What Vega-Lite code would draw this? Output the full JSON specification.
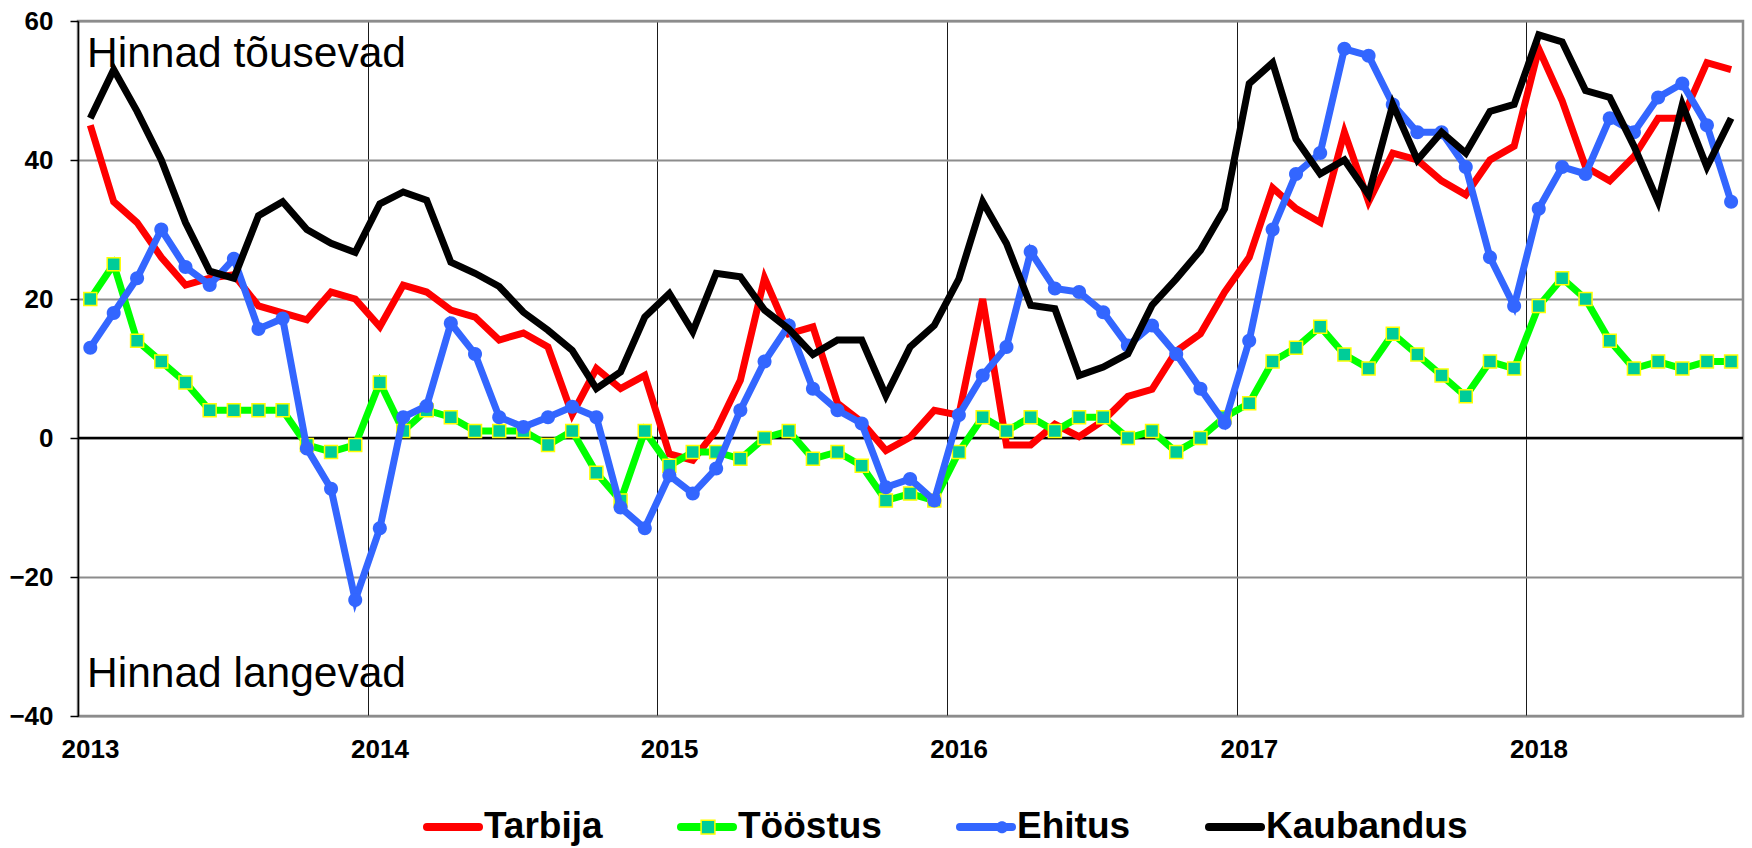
{
  "$schema": "https://vega.github.io/schema/vega-lite/v6.json",
  "autosize": {"type": "none"},
  "width": 1665,
  "height": 695,
  "padding": {"left": 78, "top": 21, "right": 9, "bottom": 132},
  "background": "white",
  "config": {
    "view": {"stroke": "#8c8c8c", "strokeWidth": 2.5},
    "font": "Liberation Sans"
  },
  "datasets": {
    "m": [
      {"d": "2013-01", "Tarbija": 45, "Tööstus": 20, "Ehitus": 13, "Kaubandus": 46},
      {"d": "2013-02", "Tarbija": 34, "Tööstus": 25, "Ehitus": 18, "Kaubandus": 53},
      {"d": "2013-03", "Tarbija": 31, "Tööstus": 14, "Ehitus": 23, "Kaubandus": 47},
      {"d": "2013-04", "Tarbija": 26, "Tööstus": 11, "Ehitus": 30, "Kaubandus": 40},
      {"d": "2013-05", "Tarbija": 22, "Tööstus": 8, "Ehitus": 24.6, "Kaubandus": 31},
      {"d": "2013-06", "Tarbija": 23, "Tööstus": 4, "Ehitus": 22, "Kaubandus": 24},
      {"d": "2013-07", "Tarbija": 23.5, "Tööstus": 4, "Ehitus": 25.8, "Kaubandus": 23},
      {"d": "2013-08", "Tarbija": 19, "Tööstus": 4, "Ehitus": 15.7, "Kaubandus": 32},
      {"d": "2013-09", "Tarbija": 18, "Tööstus": 4, "Ehitus": 17.2, "Kaubandus": 34},
      {"d": "2013-10", "Tarbija": 17, "Tööstus": -1, "Ehitus": -1.5, "Kaubandus": 30},
      {"d": "2013-11", "Tarbija": 21, "Tööstus": -2, "Ehitus": -7.3, "Kaubandus": 28},
      {"d": "2013-12", "Tarbija": 20, "Tööstus": -1, "Ehitus": -23.3, "Kaubandus": 26.7},
      {"d": "2014-01", "Tarbija": 16, "Tööstus": 8, "Ehitus": -13, "Kaubandus": 33.7},
      {"d": "2014-02", "Tarbija": 22, "Tööstus": 1, "Ehitus": 3, "Kaubandus": 35.4},
      {"d": "2014-03", "Tarbija": 21, "Tööstus": 4, "Ehitus": 4.6, "Kaubandus": 34.2},
      {"d": "2014-04", "Tarbija": 18.4, "Tööstus": 3, "Ehitus": 16.5, "Kaubandus": 25.3},
      {"d": "2014-05", "Tarbija": 17.4, "Tööstus": 1, "Ehitus": 12.1, "Kaubandus": 23.7},
      {"d": "2014-06", "Tarbija": 14.1, "Tööstus": 1, "Ehitus": 3, "Kaubandus": 21.8},
      {"d": "2014-07", "Tarbija": 15.1, "Tööstus": 1, "Ehitus": 1.6, "Kaubandus": 18.1},
      {"d": "2014-08", "Tarbija": 13.1, "Tööstus": -1, "Ehitus": 3, "Kaubandus": 15.5},
      {"d": "2014-09", "Tarbija": 3.4, "Tööstus": 1, "Ehitus": 4.5, "Kaubandus": 12.6},
      {"d": "2014-10", "Tarbija": 10, "Tööstus": -5, "Ehitus": 3, "Kaubandus": 7.1},
      {"d": "2014-11", "Tarbija": 7.1, "Tööstus": -9, "Ehitus": -10, "Kaubandus": 9.5},
      {"d": "2014-12", "Tarbija": 9, "Tööstus": 1, "Ehitus": -13, "Kaubandus": 17.4},
      {"d": "2015-01", "Tarbija": -2.3, "Tööstus": -4, "Ehitus": -5.4, "Kaubandus": 20.8},
      {"d": "2015-02", "Tarbija": -3.2, "Tööstus": -2, "Ehitus": -8, "Kaubandus": 15.3},
      {"d": "2015-03", "Tarbija": 1.1, "Tööstus": -2, "Ehitus": -4.4, "Kaubandus": 23.7},
      {"d": "2015-04", "Tarbija": 8.3, "Tööstus": -3, "Ehitus": 4, "Kaubandus": 23.2},
      {"d": "2015-05", "Tarbija": 23, "Tööstus": 0, "Ehitus": 11, "Kaubandus": 18.4},
      {"d": "2015-06", "Tarbija": 15, "Tööstus": 1, "Ehitus": 16.2, "Kaubandus": 15.7},
      {"d": "2015-07", "Tarbija": 16, "Tööstus": -3, "Ehitus": 7.1, "Kaubandus": 12},
      {"d": "2015-08", "Tarbija": 5, "Tööstus": -2, "Ehitus": 4, "Kaubandus": 14.1},
      {"d": "2015-09", "Tarbija": 2.3, "Tööstus": -4, "Ehitus": 2.1, "Kaubandus": 14.1},
      {"d": "2015-10", "Tarbija": -1.8, "Tööstus": -9, "Ehitus": -7.1, "Kaubandus": 6.1},
      {"d": "2015-11", "Tarbija": 0.1, "Tööstus": -8, "Ehitus": -5.9, "Kaubandus": 13.1},
      {"d": "2015-12", "Tarbija": 4, "Tööstus": -9, "Ehitus": -9, "Kaubandus": 16.2},
      {"d": "2016-01", "Tarbija": 3.3, "Tööstus": -2, "Ehitus": 3.3, "Kaubandus": 22.9},
      {"d": "2016-02", "Tarbija": 20, "Tööstus": 3, "Ehitus": 9, "Kaubandus": 34},
      {"d": "2016-03", "Tarbija": -1, "Tööstus": 1, "Ehitus": 13.1, "Kaubandus": 28},
      {"d": "2016-04", "Tarbija": -1, "Tööstus": 3, "Ehitus": 26.8, "Kaubandus": 19.1},
      {"d": "2016-05", "Tarbija": 2, "Tööstus": 1, "Ehitus": 21.5, "Kaubandus": 18.6},
      {"d": "2016-06", "Tarbija": 0.2, "Tööstus": 3, "Ehitus": 21, "Kaubandus": 9},
      {"d": "2016-07", "Tarbija": 2.5, "Tööstus": 3, "Ehitus": 18.1, "Kaubandus": 10.2},
      {"d": "2016-08", "Tarbija": 6, "Tööstus": 0, "Ehitus": 13.3, "Kaubandus": 12.1},
      {"d": "2016-09", "Tarbija": 7, "Tööstus": 1, "Ehitus": 16.2, "Kaubandus": 19.1},
      {"d": "2016-10", "Tarbija": 12.5, "Tööstus": -2, "Ehitus": 12.1, "Kaubandus": 22.9},
      {"d": "2016-11", "Tarbija": 15, "Tööstus": 0, "Ehitus": 7.1, "Kaubandus": 27},
      {"d": "2016-12", "Tarbija": 21, "Tööstus": 3, "Ehitus": 2.2, "Kaubandus": 33},
      {"d": "2017-01", "Tarbija": 26, "Tööstus": 5, "Ehitus": 14, "Kaubandus": 51},
      {"d": "2017-02", "Tarbija": 36, "Tööstus": 11, "Ehitus": 30, "Kaubandus": 54},
      {"d": "2017-03", "Tarbija": 33, "Tööstus": 13, "Ehitus": 38, "Kaubandus": 43},
      {"d": "2017-04", "Tarbija": 31, "Tööstus": 16, "Ehitus": 41, "Kaubandus": 38},
      {"d": "2017-05", "Tarbija": 44, "Tööstus": 12, "Ehitus": 56, "Kaubandus": 40},
      {"d": "2017-06", "Tarbija": 34, "Tööstus": 10, "Ehitus": 55, "Kaubandus": 35},
      {"d": "2017-07", "Tarbija": 41, "Tööstus": 15, "Ehitus": 48, "Kaubandus": 48},
      {"d": "2017-08", "Tarbija": 40, "Tööstus": 12, "Ehitus": 44, "Kaubandus": 40},
      {"d": "2017-09", "Tarbija": 37, "Tööstus": 9, "Ehitus": 44, "Kaubandus": 44},
      {"d": "2017-10", "Tarbija": 35, "Tööstus": 6, "Ehitus": 39, "Kaubandus": 41},
      {"d": "2017-11", "Tarbija": 40, "Tööstus": 11, "Ehitus": 26, "Kaubandus": 47},
      {"d": "2017-12", "Tarbija": 42, "Tööstus": 10, "Ehitus": 19, "Kaubandus": 48},
      {"d": "2018-01", "Tarbija": 56, "Tööstus": 19, "Ehitus": 33, "Kaubandus": 58},
      {"d": "2018-02", "Tarbija": 48.5, "Tööstus": 23, "Ehitus": 39, "Kaubandus": 57},
      {"d": "2018-03", "Tarbija": 39, "Tööstus": 20, "Ehitus": 38, "Kaubandus": 50},
      {"d": "2018-04", "Tarbija": 37, "Tööstus": 14, "Ehitus": 46, "Kaubandus": 49},
      {"d": "2018-05", "Tarbija": 40.5, "Tööstus": 10, "Ehitus": 44, "Kaubandus": 42},
      {"d": "2018-06", "Tarbija": 46, "Tööstus": 11, "Ehitus": 49, "Kaubandus": 34},
      {"d": "2018-07", "Tarbija": 46, "Tööstus": 10, "Ehitus": 51, "Kaubandus": 48},
      {"d": "2018-08", "Tarbija": 54, "Tööstus": 11, "Ehitus": 45, "Kaubandus": 39},
      {"d": "2018-09", "Tarbija": 53, "Tööstus": 11, "Ehitus": 34, "Kaubandus": 46}
    ]
  },
  "layer": [
    {
      "data": {"values": [{}]},
      "mark": {"type": "rule", "color": "black", "strokeWidth": 2.5},
      "encoding": {"y": {"datum": 0, "type": "quantitative"}}
    },
    {
      "data": {"values": [{}]},
      "mark": {"type": "text", "align": "left", "baseline": "alphabetic", "font": "Liberation Sans", "fontSize": 42.5, "color": "black", "dx": 9},
      "encoding": {
        "x": {"datum": {"year": 2013, "month": 1, "date": 1, "utc": true}, "type": "temporal", "scale": {"type": "utc", "domain": [{"year": 2013, "month": 1, "date": 1, "utc": true}, {"year": 2018, "month": 10, "date": 1, "utc": true}]}},
        "y": {"datum": 53.4, "type": "quantitative"},
        "text": {"value": "Hinnad tõusevad"}
      }
    },
    {
      "data": {"values": [{}]},
      "mark": {"type": "text", "align": "left", "baseline": "alphabetic", "font": "Liberation Sans", "fontSize": 42.5, "color": "black", "dx": 9},
      "encoding": {
        "x": {"datum": {"year": 2013, "month": 1, "date": 1, "utc": true}, "type": "temporal", "scale": {"type": "utc", "domain": [{"year": 2013, "month": 1, "date": 1, "utc": true}, {"year": 2018, "month": 10, "date": 1, "utc": true}]}},
        "y": {"datum": -35.8, "type": "quantitative"},
        "text": {"value": "Hinnad langevad"}
      }
    },
    {
      "data": {"name": "m"},
      "transform": [{"fold": ["Tarbija", "Tööstus", "Ehitus", "Kaubandus"], "as": ["s", "v"]}, {"filter": {"field": "s", "equal": "Tarbija"}}],
      "mark": {"type": "line", "strokeWidth": 7, "strokeMiterLimit": 4},
      "encoding": {
        "x": {"field": "d", "timeUnit": "utcyearmonth", "type": "temporal", "bandPosition": 0.5,
          "scale": {"type": "utc", "domain": [{"year": 2013, "month": 1, "date": 1, "utc": true}, {"year": 2018, "month": 10, "date": 1, "utc": true}]},
          "axis": {"values": [{"year": 2013, "month": 1, "date": 1, "utc": true}, {"year": 2014, "month": 1, "date": 1, "utc": true}, {"year": 2015, "month": 1, "date": 1, "utc": true}, {"year": 2016, "month": 1, "date": 1, "utc": true}, {"year": 2017, "month": 1, "date": 1, "utc": true}, {"year": 2018, "month": 1, "date": 1, "utc": true}],
            "labelExpr": "utcFormat(datum.value, '%Y')", "title": null, "grid": true, "gridColor": "#1a1a1a", "gridWidth": 1, "domain": false, "ticks": false, "tickSize": 0,
            "labelFont": "Liberation Sans", "labelFontWeight": "bold", "labelFontSize": 26, "labelColor": "black", "labelOffset": 12, "labelPadding": 20, "labelFlush": false, "labelOverlap": false}},
        "y": {"field": "v", "type": "quantitative", "scale": {"domain": [-40, 60], "nice": false, "zero": false},
          "axis": {"values": [-40, -20, 0, 20, 40, 60], "title": null, "grid": true, "gridColor": "#8c8c8c", "gridWidth": 2, "domainColor": "black", "domainWidth": 1.5, "tickColor": "black", "tickWidth": 1.5, "tickSize": 8,
            "labelFont": "Liberation Sans", "labelFontWeight": "bold", "labelFontSize": 26, "labelColor": "black", "labelPadding": 17}},
        "color": {"field": "s", "type": "nominal", "scale": {"domain": ["Tarbija", "Tööstus", "Ehitus", "Kaubandus"], "range": ["#FF0000", "#00FF00", "#3366FF", "#000000"]},
          "legend": {"orient": "none", "legendX": 344, "legendY": 775, "direction": "horizontal", "title": null, "padding": 0, "symbolType": "M-0.897,-0.069H0.897A0.069,0.069,0,0,1,0.897,0.069H-0.897A0.069,0.069,0,0,1,-0.897,-0.069Z", "symbolSize": 3364, "symbolStrokeWidth": 4, "symbolOffset": 0,
            "labelFont": "Liberation Sans", "labelFontWeight": "bold", "labelFontSize": 37, "labelColor": "black", "labelOffset": 0, "labelLimit": 500, "columnPadding": 67}}
      }
    },
    {
      "data": {"name": "m"},
      "transform": [{"fold": ["Tarbija", "Tööstus", "Ehitus", "Kaubandus"], "as": ["s", "v"]}, {"filter": {"field": "s", "equal": "Tööstus"}}],
      "mark": {"type": "line", "strokeWidth": 7, "strokeMiterLimit": 4},
      "encoding": {
        "x": {"field": "d", "timeUnit": "utcyearmonth", "type": "temporal", "bandPosition": 0.5,
          "scale": {"type": "utc", "domain": [{"year": 2013, "month": 1, "date": 1, "utc": true}, {"year": 2018, "month": 10, "date": 1, "utc": true}]}},
        "y": {"field": "v", "type": "quantitative", "scale": {"domain": [-40, 60], "nice": false, "zero": false}},
        "color": {"field": "s", "type": "nominal", "scale": {"domain": ["Tarbija", "Tööstus", "Ehitus", "Kaubandus"], "range": ["#FF0000", "#00FF00", "#3366FF", "#000000"]},
          "legend": {"orient": "none", "legendX": 344, "legendY": 775, "direction": "horizontal", "title": null, "padding": 0, "symbolType": "M-0.897,-0.069H0.897A0.069,0.069,0,0,1,0.897,0.069H-0.897A0.069,0.069,0,0,1,-0.897,-0.069Z", "symbolSize": 3364, "symbolStrokeWidth": 4, "symbolOffset": 0,
            "labelFont": "Liberation Sans", "labelFontWeight": "bold", "labelFontSize": 37, "labelColor": "black", "labelOffset": 0, "labelLimit": 500, "columnPadding": 67}}
      }
    },
    {
      "data": {"name": "m"},
      "transform": [{"fold": ["Tarbija", "Tööstus", "Ehitus", "Kaubandus"], "as": ["s", "v"]}, {"filter": {"field": "s", "equal": "Tööstus"}}],
      "mark": {"type": "point", "filled": true, "strokeWidth": 1.5, "size": 3195, "opacity": 1},
      "encoding": {
        "x": {"field": "d", "timeUnit": "utcyearmonth", "type": "temporal", "bandPosition": 0.5,
          "scale": {"type": "utc", "domain": [{"year": 2013, "month": 1, "date": 1, "utc": true}, {"year": 2018, "month": 10, "date": 1, "utc": true}]}},
        "y": {"field": "v", "type": "quantitative", "scale": {"domain": [-40, 60], "nice": false, "zero": false}},
        "shape": {"field": "s", "type": "nominal",
          "scale": {"domain": ["Tarbija", "Tööstus", "Ehitus", "Kaubandus", "_"], "range": ["M-1,-0.62M5.04,0.62", "M-1,-0.62M6.36,0.62M-0.23,-0.23H0.23V0.23H-0.23Z", "M-1,-0.62M5,0.62M0.2,0A0.2,0.2,0,1,1,-0.2,0A0.2,0.2,0,1,1,0.2,0Z", "M-1,-0.62M1,0.62", "M-1,-0.62M1,0.62"]},
          "legend": {"orient": "none", "legendX": 344, "legendY": 775, "direction": "horizontal", "title": null, "padding": 0, "symbolSize": 3600, "symbolStrokeWidth": 1.5, "symbolOffset": 0,
            "values": ["Tarbija", "Tööstus", "Ehitus", "Kaubandus"], "labelExpr": "''",
            "labelFont": "Liberation Sans", "labelFontWeight": "bold", "labelFontSize": 37, "labelColor": "black", "labelOffset": 0, "labelLimit": 500, "columnPadding": 67}},
        "fill": {"field": "s", "type": "nominal",
          "scale": {"domain": ["Tarbija", "Tööstus", "Ehitus", "Kaubandus", "_"], "range": ["transparent", "#00CC99", "#3366FF", "transparent", "transparent"]},
          "legend": {"orient": "none", "legendX": 344, "legendY": 775, "direction": "horizontal", "title": null, "padding": 0, "symbolSize": 3600, "symbolStrokeWidth": 1.5, "symbolOffset": 0,
            "values": ["Tarbija", "Tööstus", "Ehitus", "Kaubandus"], "labelExpr": "''",
            "labelFont": "Liberation Sans", "labelFontWeight": "bold", "labelFontSize": 37, "labelColor": "black", "labelOffset": 0, "labelLimit": 500, "columnPadding": 67}},
        "stroke": {"field": "s", "type": "nominal",
          "scale": {"domain": ["Tarbija", "Tööstus", "Ehitus", "Kaubandus", "_"], "range": ["transparent", "#FFFF00", "transparent", "transparent", "transparent"]},
          "legend": {"orient": "none", "legendX": 344, "legendY": 775, "direction": "horizontal", "title": null, "padding": 0, "symbolSize": 3600, "symbolStrokeWidth": 1.5, "symbolOffset": 0,
            "values": ["Tarbija", "Tööstus", "Ehitus", "Kaubandus"], "labelExpr": "''",
            "labelFont": "Liberation Sans", "labelFontWeight": "bold", "labelFontSize": 37, "labelColor": "black", "labelOffset": 0, "labelLimit": 500, "columnPadding": 67}}
      }
    },
    {
      "data": {"name": "m"},
      "transform": [{"fold": ["Tarbija", "Tööstus", "Ehitus", "Kaubandus"], "as": ["s", "v"]}, {"filter": {"field": "s", "equal": "Ehitus"}}],
      "mark": {"type": "line", "strokeWidth": 7, "strokeMiterLimit": 4},
      "encoding": {
        "x": {"field": "d", "timeUnit": "utcyearmonth", "type": "temporal", "bandPosition": 0.5,
          "scale": {"type": "utc", "domain": [{"year": 2013, "month": 1, "date": 1, "utc": true}, {"year": 2018, "month": 10, "date": 1, "utc": true}]}},
        "y": {"field": "v", "type": "quantitative", "scale": {"domain": [-40, 60], "nice": false, "zero": false}},
        "color": {"field": "s", "type": "nominal", "scale": {"domain": ["Tarbija", "Tööstus", "Ehitus", "Kaubandus"], "range": ["#FF0000", "#00FF00", "#3366FF", "#000000"]},
          "legend": {"orient": "none", "legendX": 344, "legendY": 775, "direction": "horizontal", "title": null, "padding": 0, "symbolType": "M-0.897,-0.069H0.897A0.069,0.069,0,0,1,0.897,0.069H-0.897A0.069,0.069,0,0,1,-0.897,-0.069Z", "symbolSize": 3364, "symbolStrokeWidth": 4, "symbolOffset": 0,
            "labelFont": "Liberation Sans", "labelFontWeight": "bold", "labelFontSize": 37, "labelColor": "black", "labelOffset": 0, "labelLimit": 500, "columnPadding": 67}}
      }
    },
    {
      "data": {"name": "m"},
      "transform": [{"fold": ["Tarbija", "Tööstus", "Ehitus", "Kaubandus"], "as": ["s", "v"]}, {"filter": {"field": "s", "equal": "Ehitus"}}],
      "mark": {"type": "point", "filled": true, "strokeWidth": 1.5, "size": 4900, "opacity": 1},
      "encoding": {
        "x": {"field": "d", "timeUnit": "utcyearmonth", "type": "temporal", "bandPosition": 0.5,
          "scale": {"type": "utc", "domain": [{"year": 2013, "month": 1, "date": 1, "utc": true}, {"year": 2018, "month": 10, "date": 1, "utc": true}]}},
        "y": {"field": "v", "type": "quantitative", "scale": {"domain": [-40, 60], "nice": false, "zero": false}},
        "shape": {"field": "s", "type": "nominal",
          "scale": {"domain": ["Tarbija", "Tööstus", "Ehitus", "Kaubandus", "_"], "range": ["M-1,-0.62M5.04,0.62", "M-1,-0.62M6.36,0.62M-0.23,-0.23H0.23V0.23H-0.23Z", "M-1,-0.62M5,0.62M0.2,0A0.2,0.2,0,1,1,-0.2,0A0.2,0.2,0,1,1,0.2,0Z", "M-1,-0.62M1,0.62", "M-1,-0.62M1,0.62"]},
          "legend": {"orient": "none", "legendX": 344, "legendY": 775, "direction": "horizontal", "title": null, "padding": 0, "symbolSize": 3600, "symbolStrokeWidth": 1.5, "symbolOffset": 0,
            "values": ["Tarbija", "Tööstus", "Ehitus", "Kaubandus"], "labelExpr": "''",
            "labelFont": "Liberation Sans", "labelFontWeight": "bold", "labelFontSize": 37, "labelColor": "black", "labelOffset": 0, "labelLimit": 500, "columnPadding": 67}},
        "fill": {"field": "s", "type": "nominal",
          "scale": {"domain": ["Tarbija", "Tööstus", "Ehitus", "Kaubandus", "_"], "range": ["transparent", "#00CC99", "#3366FF", "transparent", "transparent"]},
          "legend": {"orient": "none", "legendX": 344, "legendY": 775, "direction": "horizontal", "title": null, "padding": 0, "symbolSize": 3600, "symbolStrokeWidth": 1.5, "symbolOffset": 0,
            "values": ["Tarbija", "Tööstus", "Ehitus", "Kaubandus"], "labelExpr": "''",
            "labelFont": "Liberation Sans", "labelFontWeight": "bold", "labelFontSize": 37, "labelColor": "black", "labelOffset": 0, "labelLimit": 500, "columnPadding": 67}},
        "stroke": {"field": "s", "type": "nominal",
          "scale": {"domain": ["Tarbija", "Tööstus", "Ehitus", "Kaubandus", "_"], "range": ["transparent", "#FFFF00", "transparent", "transparent", "transparent"]},
          "legend": {"orient": "none", "legendX": 344, "legendY": 775, "direction": "horizontal", "title": null, "padding": 0, "symbolSize": 3600, "symbolStrokeWidth": 1.5, "symbolOffset": 0,
            "values": ["Tarbija", "Tööstus", "Ehitus", "Kaubandus"], "labelExpr": "''",
            "labelFont": "Liberation Sans", "labelFontWeight": "bold", "labelFontSize": 37, "labelColor": "black", "labelOffset": 0, "labelLimit": 500, "columnPadding": 67}}
      }
    },
    {
      "data": {"name": "m"},
      "transform": [{"fold": ["Tarbija", "Tööstus", "Ehitus", "Kaubandus"], "as": ["s", "v"]}, {"filter": {"field": "s", "equal": "Kaubandus"}}],
      "mark": {"type": "line", "strokeWidth": 7, "strokeMiterLimit": 4},
      "encoding": {
        "x": {"field": "d", "timeUnit": "utcyearmonth", "type": "temporal", "bandPosition": 0.5,
          "scale": {"type": "utc", "domain": [{"year": 2013, "month": 1, "date": 1, "utc": true}, {"year": 2018, "month": 10, "date": 1, "utc": true}]}},
        "y": {"field": "v", "type": "quantitative", "scale": {"domain": [-40, 60], "nice": false, "zero": false}},
        "color": {"field": "s", "type": "nominal", "scale": {"domain": ["Tarbija", "Tööstus", "Ehitus", "Kaubandus"], "range": ["#FF0000", "#00FF00", "#3366FF", "#000000"]},
          "legend": {"orient": "none", "legendX": 344, "legendY": 775, "direction": "horizontal", "title": null, "padding": 0, "symbolType": "M-0.897,-0.069H0.897A0.069,0.069,0,0,1,0.897,0.069H-0.897A0.069,0.069,0,0,1,-0.897,-0.069Z", "symbolSize": 3364, "symbolStrokeWidth": 4, "symbolOffset": 0,
            "labelFont": "Liberation Sans", "labelFontWeight": "bold", "labelFontSize": 37, "labelColor": "black", "labelOffset": 0, "labelLimit": 500, "columnPadding": 67}}
      }
    }
  ]
}
